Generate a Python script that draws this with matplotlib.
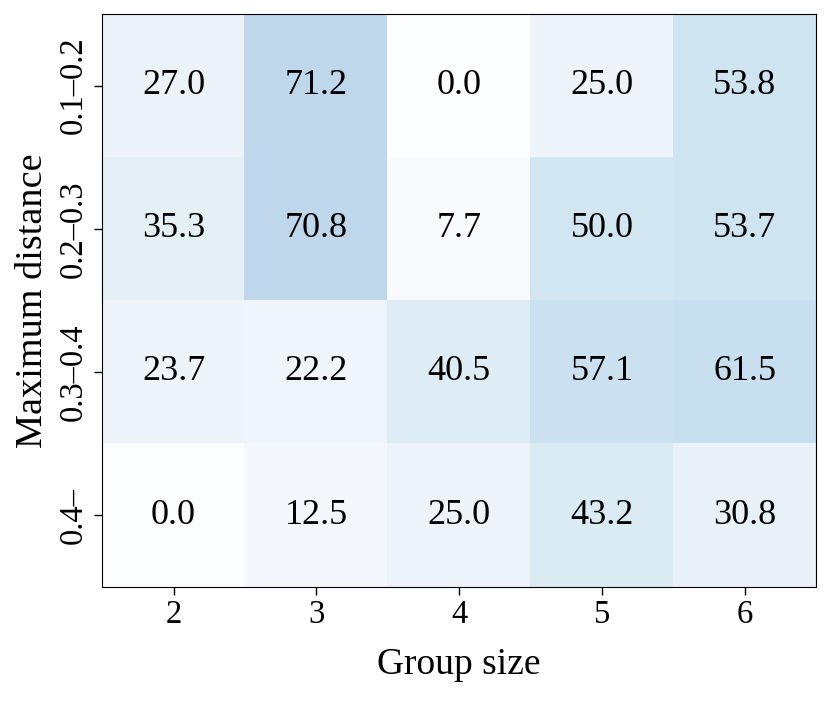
import numpy as np
import matplotlib
matplotlib.use('Agg')
import matplotlib.pyplot as plt

matplotlib.rcParams.update({'font.family': 'Liberation Serif', 'font.size': 23.5})

# group sizes and distance ranges
group_sizes = [2, 3, 4, 5, 6]
distances = ['0.1–0.2', '0.2–0.3', '0.3–0.4', '0.4–']

# percentages, one row per distance range
row_01_02 = [27.0, 71.2, 0.0, 25.0, 53.8]
row_02_03 = [35.3, 70.8, 7.7, 50.0, 53.7]
row_03_04 = [23.7, 22.2, 40.5, 57.1, 61.5]
row_04 = [0.0, 12.5, 25.0, 43.2, 30.8]

valores = np.array([row_01_02, row_02_03, row_03_04, row_04])

fig, ax = plt.subplots(figsize=[8.31, 7.01], dpi=100)
plt.subplots_adjust(left=0.123, bottom=0.163, right=0.982, top=0.98)

ax.imshow(valores, cmap='Blues', vmin=0, vmax=100, alpha=0.3, aspect='auto')

for i in range(len(distances)):
    for j in range(len(group_sizes)):
        ax.text(j, i, '%.1f' % valores[i, j], ha='center', va='center', fontsize=26)

ax.set_xticks(range(len(group_sizes)))
ax.set_xticklabels([str(g) for g in group_sizes])
ax.set_yticks(range(len(distances)))
ax.set_yticklabels(distances, rotation=90, va='center')
ax.tick_params(length=6, width=1)
ax.set_xlabel('Group size', fontsize=27, labelpad=12)
ax.set_ylabel('Maximum distance', fontsize=27.5, labelpad=6)

fig.savefig('out.png', dpi=100)
